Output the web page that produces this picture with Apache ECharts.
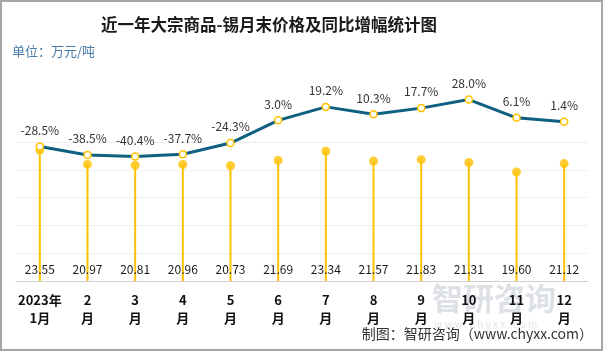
<!DOCTYPE html>
<html>
<head>
<meta charset="utf-8">
<script src="https://cdn.jsdelivr.net/npm/echarts@6/dist/echarts.min.js"></script>
<style>
  html, body { margin: 0; padding: 0; background: #fff; }
  #main { width: 603px; height: 351px; }
</style>
</head>
<body>
<div id="main"></div>
<script>
var months = ['2023年\n1月', '2\n月', '3\n月', '4\n月', '5\n月', '6\n月', '7\n月', '8\n月', '9\n月', '10\n月', '11\n月', '12\n月'];
var prices = [23.55, 20.97, 20.81, 20.96, 20.73, 21.69, 23.34, 21.57, 21.83, 21.31, 19.60, 21.12];
var growth = [-28.5, -38.5, -40.4, -37.7, -24.3, 3.0, 19.2, 10.3, 17.7, 28.0, 6.1, 1.4];

var font = '"Noto Sans CJK SC", sans-serif';
var myChart = echarts.init(document.getElementById('main'));

var option = {
    animation: false,
    textStyle: { fontFamily: font },
    title: {
        text: '近一年大宗商品-锡月末价格及同比增幅统计图',
        left: 96,
        top: 11,
        textStyle: { fontSize: 16.5, fontWeight: 'bold', color: '#1a1a1a', fontFamily: font }
    },
    graphic: [
        {
            type: 'rect',
            shape: { x: 1, y: 1, width: 601, height: 349 },
            style: { fill: 'none', stroke: '#a6a6a6', lineWidth: 2 },
            silent: true
        },
        {
            type: 'text', left: 12, top: 45,
            style: { text: '单位：万元/吨', fill: '#4a7aa6', fontSize: 13, fontFamily: font }
        },
        // 水印
        {
            type: 'text', left: 432, top: 283, z: -1,
            style: { text: '智研咨询', fill: '#dde1e6', fontSize: 31, fontWeight: 'bold', fontFamily: font }
        },
        {
            type: 'text', left: 434, top: 319, z: -1,
            style: { text: 'w w w . c h y x x . c o m', fill: '#e0e3e8', fontSize: 10, fontFamily: font }
        },
        {
            type: 'text', right: 10, top: 327,
            style: { text: '制图：智研咨询（www.chyxx.com）', fill: '#333', fontSize: 14, fontFamily: font }
        }
    ],
    grid: { left: 16, right: 15, top: 142, bottom: 70 },
    xAxis: {
        type: 'category',
        data: months,
        axisTick: { show: false },
        axisLine: { lineStyle: { color: '#d0d0d0', width: 1 } },
        axisLabel: {
            color: '#111',
            fontSize: 13,
            fontWeight: 'bold',
            lineHeight: 18,
            margin: 10,
            interval: 0
        }
    },
    yAxis: [
        {
            type: 'value',
            min: 0,
            max: 25,
            interval: 5,
            axisLabel: { show: false },
            axisLine: { show: false },
            axisTick: { show: false },
            splitLine: { lineStyle: { color: '#efefef' } }
        },
        {
            type: 'value',
            min: -190,
            max: -23,
            axisLabel: { show: false },
            axisLine: { show: false },
            axisTick: { show: false },
            splitLine: { show: false }
        }
    ],
    series: [
        {
            name: '价格',
            type: 'bar',
            barWidth: 2,
            data: prices,
            itemStyle: { color: '#ffc000' },
            label: {
                show: true,
                position: 'insideBottom',
                distance: 6,
                color: '#1a1a1a',
                fontSize: 12,
                formatter: function (p) { return p.value.toFixed(2); }
            },
            z: 2
        },
        {
            name: '价格点',
            type: 'scatter',
            data: prices,
            symbolSize: 9,
            itemStyle: { color: '#ffc000' },
            z: 3
        },
        {
            name: '同比增幅',
            type: 'line',
            yAxisIndex: 1,
            data: growth,
            clip: false,
            symbol: 'circle',
            symbolSize: 7,
            lineStyle: { color: '#0f5f80', width: 3 },
            itemStyle: { color: '#fff', borderColor: '#ffc000', borderWidth: 1.5 },
            label: {
                show: true,
                position: 'top',
                distance: 6,
                color: '#333',
                fontSize: 12,
                formatter: function (p) { return p.value.toFixed(1) + '%'; }
            },
            z: 4
        }
    ]
};

myChart.setOption(option);
</script>
</body>
</html>
